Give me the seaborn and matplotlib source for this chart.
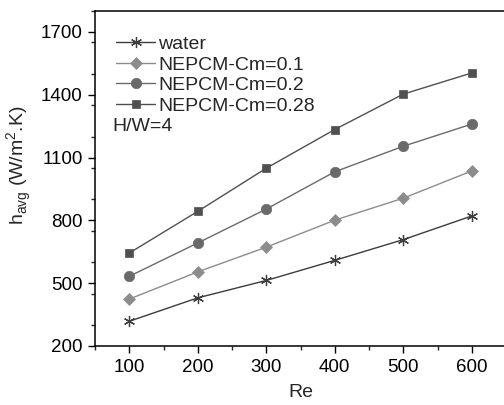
import pandas as pd
import numpy as np
import seaborn as sns
import matplotlib.pyplot as plt
from matplotlib.ticker import MultipleLocator

re_vals = [100, 200, 300, 400, 500, 600]
water = [318, 430, 513, 609, 708, 821]
cm_01 = [424, 554, 672, 801, 906, 1036]
cm_02 = [533, 692, 854, 1032, 1154, 1260]
cm_028 = [644, 843, 1049, 1234, 1403, 1504]

series_names = ['water', 'NEPCM-Cm=0.1', 'NEPCM-Cm=0.2', 'NEPCM-Cm=0.28']
series_values = [water, cm_01, cm_02, cm_028]
colors = ['#3c3c3c', '#8c8c8c', '#6a6a6a', '#505050']
markers = [(6, 2, 0), 'D', 'o', 's']
msizes = [8, 6.5, 7.5, 6]

df = pd.DataFrame({
    'Re': re_vals * len(series_names),
    'h': sum(series_values, []),
    'series': np.repeat(series_names, len(re_vals)),
})

sns.set_theme(style='ticks')
plt.rcParams['font.family'] = ['Liberation Sans', 'DejaVu Sans']
plt.rcParams['mathtext.fontset'] = 'custom'
plt.rcParams['mathtext.rm'] = 'Liberation Sans'

fig = plt.figure(figsize=(5.04, 4.05), dpi=100)
ax = fig.add_axes([95 / 504, 1 - 346 / 405, (506 - 95) / 504, (346 - 11) / 405])

for name, c, m, ms in zip(series_names, colors, markers, msizes):
    sub = df[df['series'] == name]
    sns.lineplot(data=sub, x='Re', y='h', ax=ax, color=c, marker=m,
                 markersize=ms, markeredgecolor=c, markerfacecolor=c,
                 markeredgewidth=0.9 if name == 'water' else 0.5,
                 linewidth=1.0, label=name)

ax.set_xlim(50, 650)
ax.set_ylim(200, 1800)
ax.set_xticks(re_vals)
ax.set_yticks([200, 500, 800, 1100, 1400, 1700])
ax.xaxis.set_minor_locator(MultipleLocator(50))
ax.yaxis.set_minor_locator(MultipleLocator(150))
ax.tick_params(which='major', direction='out', length=5, width=1, labelsize=13.5, colors='black', pad=4)
ax.tick_params(which='minor', direction='out', length=3, width=1)
for s in ax.spines.values():
    s.set_visible(True)
    s.set_color('black')
    s.set_linewidth(1.1)

ax.set_xlabel('Re', fontsize=14, labelpad=6)
ax.set_ylabel(r'h$_{\mathregular{avg}}$ (W/m$^{\mathregular{2}}$.K)', fontsize=14)
ax.yaxis.set_label_coords(-0.148, 0.54)

leg = ax.legend(loc='upper left', bbox_to_anchor=(0.033, 0.95), frameon=False,
                fontsize=14, handlelength=2.0, handletextpad=0.15,
                labelspacing=0.15, borderaxespad=0)
ax.text(0.043, 0.655, 'H/W=4', transform=ax.transAxes, fontsize=14, ha='left', va='center')

fig.savefig('out.png', dpi=100)
